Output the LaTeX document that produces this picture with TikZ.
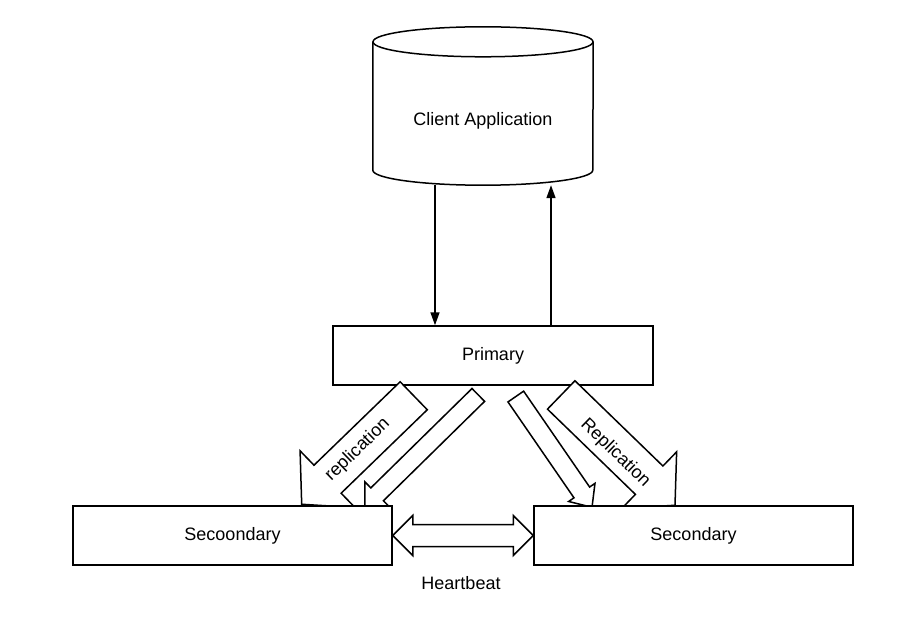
\documentclass[tikz,border=0pt]{standalone}
\usepackage{fontspec}
\setmainfont{Liberation Sans}
\usetikzlibrary{calc,arrows.meta}

\pgfdeclarelayer{back}
\pgfdeclarelayer{mid}
\pgfsetlayers{back,mid,main}

% fat arrow: start, end, shaft half width, head half width, head length
\newcommand{\blockarrow}[5]{%
  \coordinate (neck) at ($(#2)!#5!(#1)$);
  \draw[fatarrow] ($(#1)!#3!90:(#2)$) -- ($(neck)!#3!90:(#2)$) -- ($(neck)!#4!90:(#2)$) -- (#2)
    -- ($(neck)!#4!-90:(#2)$) -- ($(neck)!#3!-90:(#2)$) -- ($(#1)!#3!-90:(#2)$) -- cycle;
}
% fat arrow with two heads
\newcommand{\dblarrow}[5]{%
  \coordinate (neckA) at ($(#1)!#5!(#2)$);
  \coordinate (neckB) at ($(#2)!#5!(#1)$);
  \draw[fatarrow] (#1) -- ($(neckA)!#4!90:(#2)$) -- ($(neckA)!#3!90:(#2)$) -- ($(neckB)!#3!90:(#2)$)
    -- ($(neckB)!#4!90:(#2)$) -- (#2) -- ($(neckB)!#4!-90:(#2)$) -- ($(neckB)!#3!-90:(#2)$)
    -- ($(neckA)!#3!-90:(#2)$) -- ($(neckA)!#4!-90:(#2)$) -- cycle;
}

\begin{document}
\begin{tikzpicture}[
    x=1pt,
    y=1pt,
    every node/.style={
        font=\fontsize{18}{22}\selectfont
    },
    box/.style={
        draw,
        fill=white,
        line width=1.5pt,
        minimum height=59pt,
        inner sep=0pt
    },
    outline/.style={
        line width=1.5pt
    },
    conn/.style={
        line width=1.5pt,
        -{Triangle[length=13pt,width=9pt]}
    },
    fatarrow/.style={
        draw,
        fill=white,
        line width=1.5pt,
        line join=miter
    }
]
\useasboundingbox (0,0) rectangle (917,619);

% Nodes
\node[minimum width=220pt, minimum height=128pt, inner sep=0pt] (client) at (483,498) {Client Application};

\begin{pgfonlayer}{back}
\node[box, minimum width=320pt] (primary) at (493,263.5) {Primary};
\end{pgfonlayer}

\node[box, minimum width=319pt] (secL) at (232.5,83.5) {Secoondary};
\node[box, minimum width=319pt] (secR) at (693.5,83.5) {Secondary};

\node (heartbeat) at (461,36) {Heartbeat};

% Cylinder
\draw[outline] ([yshift=15pt]client.north west) -- ([yshift=15pt]client.south west)
    arc[start angle=180, end angle=360, x radius=110pt, y radius=15pt]
    -- ([yshift=15pt]client.north east);
\draw[outline] ([yshift=15pt]client.north) ellipse[x radius=110pt, y radius=15pt];

% Edges
\draw[conn] ([xshift=-48pt]client.south) -- ([xshift=-58pt]primary.north);
\draw[conn] ([xshift=58pt]primary.north) -- ([xshift=68pt]client.south);

% Replication arrows
\coordinate (repL-s) at ([xshift=-79.3pt,yshift=-10pt]primary.south);
\coordinate (repL-e) at ([xshift=69.2pt,yshift=1pt]secL.north);
\coordinate (cpyL-s) at ([xshift=-14.7pt,yshift=-9.2pt]primary.south);
\coordinate (cpyL-e) at ([xshift=132.5pt,yshift=-1pt]secL.north);
\coordinate (cpyR-s) at ([xshift=22.8pt,yshift=-10.8pt]primary.south);
\coordinate (cpyR-e) at ([xshift=-101.5pt,yshift=-2pt]secR.north);
\coordinate (repR-s) at ([xshift=68.2pt,yshift=-9.2pt]primary.south);
\coordinate (repR-e) at ([xshift=-18.5pt]secR.north);

\begin{pgfonlayer}{mid}
\blockarrow{repL-s}{repL-e}{19.5pt}{39.5pt}{36pt}
\blockarrow{cpyL-s}{cpyL-e}{9pt}{17.5pt}{17pt}
\blockarrow{cpyR-s}{cpyR-e}{9.5pt}{16pt}{18pt}
\blockarrow{repR-s}{repR-e}{19.75pt}{39.5pt}{36pt}
\path (repL-s) -- (repL-e) node[midway, sloped] (repL-lbl) {replication};
\path (repR-s) -- (repR-e) node[midway, sloped, yshift=-4pt] (repR-lbl) {Replication};
\end{pgfonlayer}

% Heartbeat
\dblarrow{secL.east}{secR.west}{11pt}{20pt}{20pt}

\end{tikzpicture}
\end{document}
